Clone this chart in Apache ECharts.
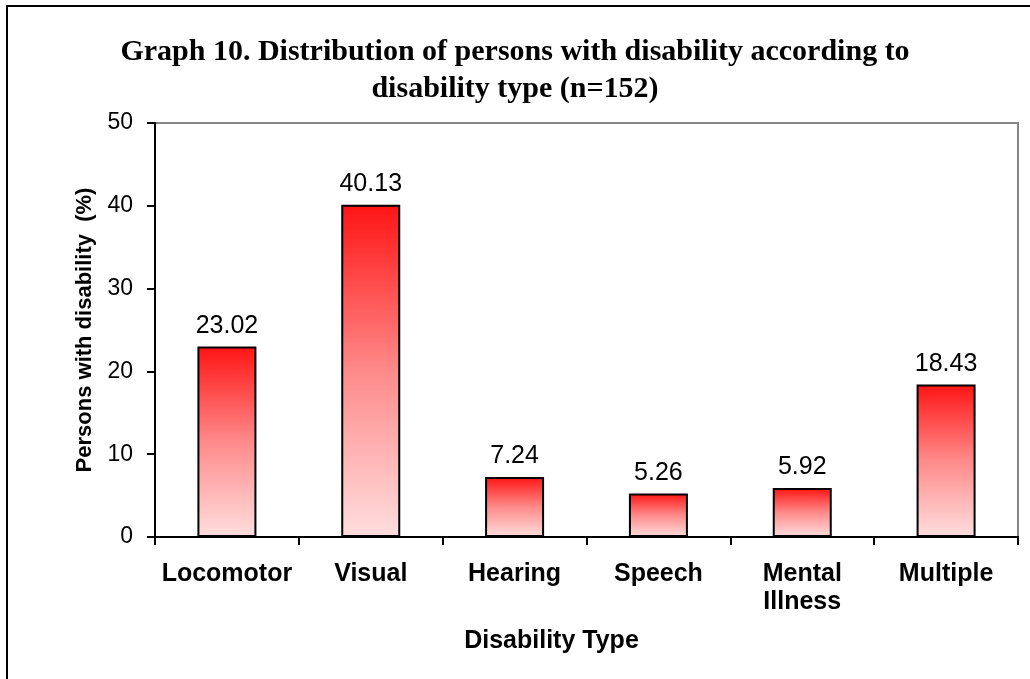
<!DOCTYPE html>
<html>
<head>
<meta charset="utf-8">
<title>Graph 10. Distribution of persons with disability according to disability type</title>
<script src="https://cdn.jsdelivr.net/npm/echarts@6/dist/echarts.min.js"></script>
<style>
  html, body { margin: 0; padding: 0; background: #ffffff; }
  #chart { width: 1030px; height: 679px; }
</style>
</head>
<body>
<div id="chart"></div>
<script>
// Disability types and share of persons with disability (%)
const categories = ['Locomotor', 'Visual', 'Hearing', 'Speech', 'Mental\nIllness', 'Multiple'];
const percentages = [23.02, 40.13, 7.24, 5.26, 5.92, 18.43];
const yTicks = [0, 10, 20, 30, 40, 50];

const sans = 'Liberation Sans, Arial, sans-serif';
const serif = 'Liberation Serif, Times New Roman, serif';

const chart = echarts.init(document.getElementById('chart'));

chart.setOption({
  animation: false,
  backgroundColor: '#ffffff',
  title: {
    text: 'Graph 10. Distribution of persons with disability according to\ndisability type (n=152)',
    left: 'center',
    top: 29,
    textStyle: {
      fontFamily: serif,
      fontWeight: 'bold',
      fontSize: 30,
      lineHeight: 37,
      color: '#000000',
      align: 'center'
    }
  },
  graphic: [{
    type: 'rect',
    z: -1,
    silent: true,
    shape: { x: 7, y: 6, width: 1100, height: 800 },
    style: { fill: 'none', stroke: '#000000', lineWidth: 2 }
  }],
  grid: {
    left: 155,
    right: 12,
    top: 123,
    bottom: 142,
    show: true,
    borderColor: '#858585',
    borderWidth: 2,
    backgroundColor: 'transparent'
  },
  xAxis: {
    type: 'category',
    data: categories,
    name: 'Disability Type',
    nameLocation: 'middle',
    nameGap: 92,
    nameTextStyle: {
      fontFamily: sans,
      fontWeight: 'bold',
      fontSize: 25,
      color: '#000000',
      padding: [0, 70, 0, 0]
    },
    axisLine: { lineStyle: { color: '#000000', width: 2 } },
    axisTick: { show: true, length: 8, lineStyle: { color: '#000000', width: 2 } },
    axisLabel: {
      fontFamily: sans,
      fontWeight: 'bold',
      fontSize: 25,
      lineHeight: 28,
      color: '#000000',
      margin: 23,
      interval: 0
    },
    splitLine: { show: false }
  },
  yAxis: {
    type: 'value',
    min: yTicks[0],
    max: yTicks[yTicks.length - 1],
    interval: yTicks[1] - yTicks[0],
    name: 'Persons with disability  (%)',
    nameLocation: 'middle',
    nameGap: 59,
    nameTextStyle: {
      fontFamily: sans,
      fontWeight: 'bold',
      fontSize: 22,
      color: '#000000'
    },
    axisLine: { show: true, lineStyle: { color: '#000000', width: 2 } },
    axisTick: { show: true, length: 8, lineStyle: { color: '#000000', width: 2 } },
    axisLabel: {
      fontFamily: sans,
      fontSize: 23,
      color: '#000000',
      margin: 22
    },
    splitLine: { show: false }
  },
  series: [{
    type: 'bar',
    data: percentages,
    barWidth: 59,
    itemStyle: {
      color: new echarts.graphic.LinearGradient(0, 0, 0, 1, [
        { offset: 0, color: '#ff1414' },
        { offset: 0.5, color: '#ff8a8a' },
        { offset: 1, color: '#ffdede' }
      ]),
      borderColor: '#000000',
      borderWidth: 2
    },
    label: {
      show: true,
      position: 'top',
      distance: 8,
      fontFamily: sans,
      fontSize: 25,
      color: '#000000',
      formatter: (p) => p.value.toFixed(2)
    }
  }]
});
</script>
</body>
</html>
